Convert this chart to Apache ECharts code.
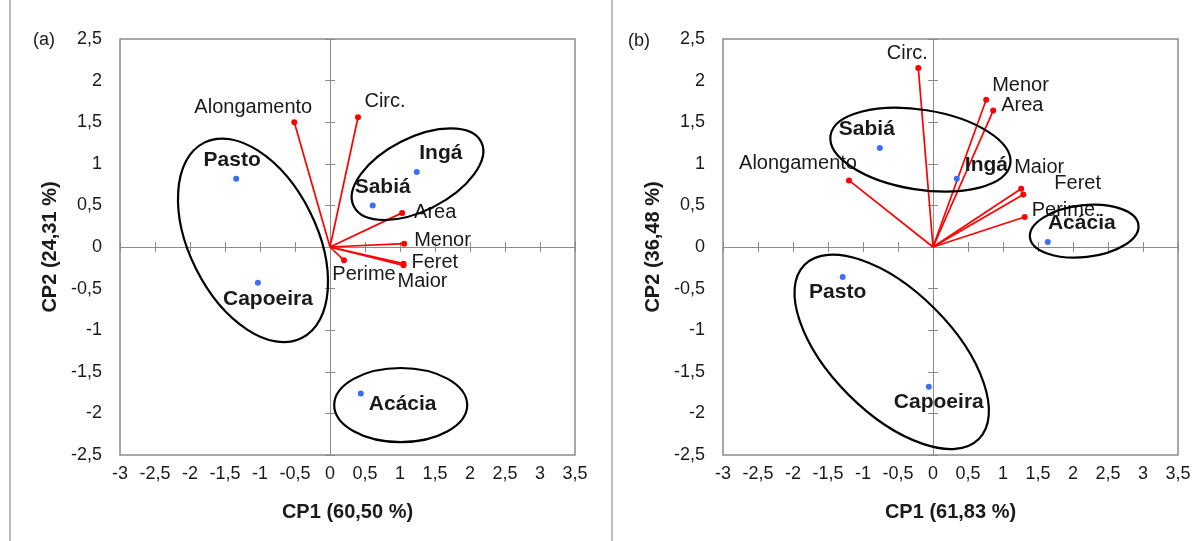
<!DOCTYPE html>
<html>
<head>
<meta charset="utf-8">
<script src="https://cdn.jsdelivr.net/npm/echarts@6/dist/echarts.min.js"></script>
<style>
html,body{margin:0;padding:0;background:#fff}
#main{width:1197px;height:541px}
</style>
</head>
<body>
<div id="main"></div>
<script>
var myChart = echarts.init(document.getElementById('main'));

// sites (blue points)
var sites = ['Pasto', 'Capoeira', 'Sabiá', 'Ingá', 'Acácia'];
var sitesA_cp1 = [-1.34, -1.03, 0.61, 1.24, 0.44];
var sitesA_cp2 = [0.82, -0.43, 0.50, 0.90, -1.76];
var sitesB_cp1 = [-1.29, -0.06, -0.76, 0.34, 1.64];
var sitesB_cp2 = [-0.36, -1.68, 1.19, 0.82, 0.06];

// variables (red vectors)
var varsA = ['Alongamento', 'Circ.', 'Area', 'Menor', 'Feret', 'Maior', 'Perime'];
var varsA_cp1 = [-0.51, 0.40, 1.03, 1.06, 1.05, 1.05, 0.20];
var varsA_cp2 = [1.50, 1.56, 0.41, 0.04, -0.20, -0.22, -0.16];
var varsB = ['Alongamento', 'Circ.', 'Area', 'Menor', 'Feret', 'Maior', 'Perime.'];
var varsB_cp1 = [-1.20, -0.21, 0.86, 0.76, 1.29, 1.26, 1.31];
var varsB_cp2 = [0.80, 2.15, 1.64, 1.77, 0.63, 0.70, 0.36];

// group ellipses: centre, semi-axes (CP1 units), rotation (deg)
var ellA_cx = [-1.10, 1.25, 1.01];
var ellA_cy = [0.08, 0.875, -1.90];
var ellA_rx = [0.91, 1.02, 0.95];
var ellA_ry = [1.56, 0.52, 0.53];
var ellA_rot = [26.5, 27, 0];
var ellB_cx = [-0.18, 2.16, -0.59];
var ellB_cy = [1.17, 0.19, -1.26];
var ellB_rx = [1.30, 0.78, 1.76];
var ellB_ry = [0.57, 0.37, 0.87];
var ellB_rot = [-9, 6.5, -45];

var xTicks = {min: -3, max: 3.5, interval: 0.5};
var yTicks = {min: -2.5, max: 2.5, interval: 0.5};

// label placement
var siteLblA = {
	'Pasto': ['top', [-4, 0]], 'Capoeira': ['bottom', [10, -2]], 'Sabiá': ['top', [10, 0]],
	'Ingá': ['top', [24, 0]], 'Acácia': ['right', [0, 11]]
};
var siteLblB = {
	'Pasto': ['bottom', [-5, -3]], 'Capoeira': ['bottom', [10, -3]], 'Sabiá': ['top', [-13, 0]],
	'Ingá': ['right', [0, -14]], 'Acácia': ['top', [34, 0]]
};
var varLblA = {
	'Alongamento': ['top', [-41, 3]], 'Circ.': ['top', [27, 2]], 'Area': ['right', [4, 0]],
	'Menor': ['right', [2, -3]], 'Feret': ['right', [0, -1]], 'Maior': ['bottom', [19, -2]],
	'Perime': ['bottom', [20, -4]]
};
var varLblB = {
	'Alongamento': ['top', [-51, 1]], 'Circ.': ['top', [-11, 3]], 'Area': ['right', [0, -5]],
	'Menor': ['right', [-2, -14]], 'Feret': ['right', [23, -11]], 'Maior': ['top', [18, -3]],
	'Perime.': ['right', [-1, -7]]
};

var FONT = 'Liberation Sans, Arial, sans-serif';
var TXT = '#1a1a1a';
var GRAY = '#8c8c8c';

function comma(v) { return String(v).replace('.', ','); }

function zeroAxis(gi, pos, inside, other, t) {
	return {
		gridIndex: gi, type: 'value', position: pos, min: t.min, max: t.max, interval: t.interval,
		axisLine: {show: true, onZero: true, onZeroAxisIndex: other, lineStyle: {color: GRAY, width: 1}},
		axisTick: {show: true, inside: inside, length: 5, lineStyle: {color: GRAY, width: 1}},
		axisLabel: {show: false}, splitLine: {show: false}
	};
}

function panelAxes(gi, xName, yName) {
	var b = gi * 3;
	var xs = [{
		gridIndex: gi, type: 'value', position: 'bottom', min: xTicks.min, max: xTicks.max, interval: xTicks.interval,
		axisLine: {show: false, onZero: false}, axisTick: {show: false}, splitLine: {show: false},
		axisLabel: {formatter: comma, fontSize: 18, color: TXT, fontFamily: FONT, margin: 10},
		name: xName, nameLocation: 'middle', nameGap: 47,
		nameTextStyle: {fontSize: 20, fontWeight: 'bold', color: TXT, fontFamily: FONT}
	}, zeroAxis(gi, 'bottom', true, b, xTicks), zeroAxis(gi, 'bottom', false, b, xTicks)];
	var ys = [{
		gridIndex: gi, type: 'value', position: 'left', min: yTicks.min, max: yTicks.max, interval: yTicks.interval,
		axisLine: {show: false, onZero: false}, axisTick: {show: false}, splitLine: {show: false},
		axisLabel: {formatter: comma, fontSize: 18, color: TXT, fontFamily: FONT, margin: 18},
		name: yName, nameLocation: 'middle', nameGap: 60,
		nameTextStyle: {fontSize: 20, fontWeight: 'bold', color: TXT, fontFamily: FONT}
	}, zeroAxis(gi, 'left', true, b, yTicks), zeroAxis(gi, 'left', false, b, yTicks)];
	return {x: xs, y: ys};
}

function ellipseItem(params, api) {
	var c = api.coord([api.value(0), api.value(1)]);
	var s = api.size([1, 1]);
	return {
		type: 'ellipse', x: c[0], y: c[1], rotation: api.value(4) * Math.PI / 180,
		shape: {cx: 0, cy: 0, rx: api.value(2) * s[0], ry: api.value(3) * s[0]},
		style: {fill: 'none', stroke: '#000', lineWidth: 2.2}
	};
}

function panelSeries(gi, sx, sy, vn, vx, vy, ex, ey, erx, ery, erot, siteLbl, varLbl) {
	var b = gi * 3;
	var vectors = vn.map(function(n, i) { return {coords: [[0, 0], [vx[i], vy[i]]]}; });
	var tips = vn.map(function(n, i) {
		return {name: n, value: [vx[i], vy[i]], label: {position: varLbl[n][0], offset: varLbl[n][1]}};
	});
	var pts = sites.map(function(n, i) {
		return {name: n, value: [sx[i], sy[i]], label: {position: siteLbl[n][0], offset: siteLbl[n][1]}};
	});
	var ells = ex.map(function(v, i) { return [ex[i], ey[i], erx[i], ery[i], erot[i]]; });
	return [{
		type: 'lines', coordinateSystem: 'cartesian2d', xAxisIndex: b, yAxisIndex: b,
		polyline: false, symbol: 'none', silent: true, z: 3,
		lineStyle: {color: '#ff0000', width: 1.7, opacity: 1, curveness: 0},
		data: vectors
	}, {
		type: 'scatter', xAxisIndex: b, yAxisIndex: b, symbolSize: 6, z: 4,
		itemStyle: {color: '#ff0000', opacity: 1},
		label: {show: true, formatter: '{b}', fontSize: 20, color: TXT, fontFamily: FONT, distance: 5},
		data: tips
	}, {
		type: 'custom', xAxisIndex: b, yAxisIndex: b, renderItem: ellipseItem, clip: false, z: 5,
		silent: true, data: ells
	}, {
		type: 'scatter', xAxisIndex: b, yAxisIndex: b, symbolSize: 6, z: 6,
		itemStyle: {color: '#3a6ef5', opacity: 1},
		label: {show: true, formatter: '{b}', fontSize: 21, fontWeight: 'bold', color: TXT, fontFamily: FONT, distance: 5},
		data: pts
	}];
}

var axA = panelAxes(0, 'CP1 (60,50 %)', 'CP2 (24,31 %)');
var axB = panelAxes(1, 'CP1 (61,83 %)', 'CP2 (36,48 %)');

var option = {
	animation: false,
	backgroundColor: '#fff',
	textStyle: {fontFamily: FONT},
	grid: [
		{left: 120, top: 39, width: 455, height: 416, show: true, borderColor: GRAY, borderWidth: 1.5, backgroundColor: 'transparent'},
		{left: 723, top: 39, width: 455, height: 416, show: true, borderColor: GRAY, borderWidth: 1.5, backgroundColor: 'transparent'}
	],
	xAxis: axA.x.concat(axB.x),
	yAxis: axA.y.concat(axB.y),
	graphic: [
		{type: 'line', shape: {x1: 10, y1: 0, x2: 10, y2: 541}, style: {stroke: '#a6a6a6', lineWidth: 1.5}},
		{type: 'line', shape: {x1: 612, y1: 0, x2: 612, y2: 541}, style: {stroke: '#a6a6a6', lineWidth: 1.5}},
		{type: 'text', left: 33, top: 31, style: {text: '(a)', fontSize: 18, fill: TXT, fontFamily: FONT}},
		{type: 'text', left: 628, top: 32, style: {text: '(b)', fontSize: 18, fill: TXT, fontFamily: FONT}}
	],
	series: panelSeries(0, sitesA_cp1, sitesA_cp2, varsA, varsA_cp1, varsA_cp2,
			ellA_cx, ellA_cy, ellA_rx, ellA_ry, ellA_rot, siteLblA, varLblA)
		.concat(panelSeries(1, sitesB_cp1, sitesB_cp2, varsB, varsB_cp1, varsB_cp2,
			ellB_cx, ellB_cy, ellB_rx, ellB_ry, ellB_rot, siteLblB, varLblB))
};

myChart.setOption(option);
</script>
</body>
</html>
